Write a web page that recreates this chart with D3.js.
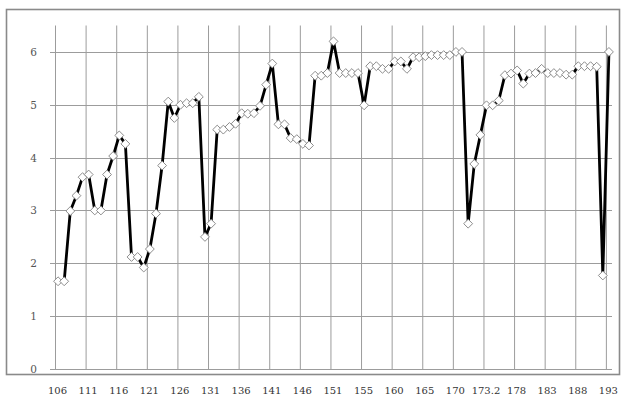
<!DOCTYPE html>
<html>
<head>
<meta charset="utf-8">
<script src="https://cdn.jsdelivr.net/npm/d3@7"></script>
<style>
  html, body { margin: 0; padding: 0; background: #fff; }
  svg { display: block; }
</style>
</head>
<body>
<svg id="chart" width="624" height="397"></svg>
<script>
// ---- data ----
const values = [
  1.66, 1.66, 2.99, 3.28, 3.63, 3.68, 3.00, 3.00, 3.68, 4.03,
  4.42, 4.26, 2.12, 2.12, 1.92, 2.27, 2.94, 3.85, 5.06, 4.75,
  5.00, 5.03, 5.03, 5.15, 2.50, 2.75, 4.53, 4.53, 4.58, 4.64,
  4.84, 4.83, 4.84, 4.98, 5.38, 5.78, 4.63, 4.63, 4.37, 4.35,
  4.26, 4.23, 5.55, 5.55, 5.60, 6.20, 5.60, 5.60, 5.60, 5.60,
  4.99, 5.73, 5.73, 5.68, 5.68, 5.82, 5.82, 5.68, 5.90, 5.90,
  5.92, 5.94, 5.94, 5.94, 5.94, 6.00, 6.00, 2.75, 3.88, 4.43,
  4.99, 4.99, 5.08, 5.56, 5.59, 5.65, 5.40, 5.59, 5.60, 5.68,
  5.60, 5.60, 5.60, 5.57, 5.57, 5.73, 5.73, 5.73, 5.72, 1.77,
  6.00
];
const categories = values.map((d, i) => i);
const tickLabels = ["106", "111", "116", "121", "126", "131", "136", "141", "146", "151",
                    "155", "160", "165", "170", "173.2", "178", "183", "188", "193"];
const tickEvery = 5;
const yTicks = [0, 1, 2, 3, 4, 5, 6];

// ---- layout ----
const svg = d3.select("#chart");
const x = d3.scaleBand().domain(categories).range([55, 612]).padding(0);
const y = d3.scaleLinear().domain([0, 6.5]).range([369, 25.5]);
const cx = i => x(i) + x.bandwidth() / 2;
const serif = "'DejaVu Serif', 'Liberation Serif', serif";

// frame
svg.append("rect")
  .attr("x", 6.5).attr("y", 9.5)
  .attr("width", 613).attr("height", 365)
  .attr("fill", "none").attr("stroke", "#8a8a8a").attr("stroke-width", 1.6);

// vertical grid lines
const tickIdx = tickLabels.map((t, k) => k * tickEvery);
svg.append("g").selectAll("line").data(tickIdx).join("line")
  .attr("x1", i => x(i) + 0.5).attr("x2", i => x(i) + 0.5)
  .attr("y1", y(6.5)).attr("y2", y(0))
  .attr("stroke", "#9c9c9c").attr("stroke-width", 1);

// horizontal grid lines
svg.append("g").selectAll("line").data(yTicks).join("line")
  .attr("x1", 50).attr("x2", 612)
  .attr("y1", d => Math.round(y(d)) + 0.5).attr("y2", d => Math.round(y(d)) + 0.5)
  .attr("stroke", "#9c9c9c").attr("stroke-width", 1);

// y labels
svg.append("g").selectAll("text").data(yTicks).join("text")
  .attr("x", 37).attr("y", d => y(d) + 4)
  .attr("text-anchor", "end")
  .attr("font-family", serif)
  .attr("font-size", 10.5).attr("fill", "#555")
  .text(d => d);

// x labels
svg.append("g").selectAll("text").data(tickLabels).join("text")
  .attr("x", (t, k) => x(k * tickEvery) + 2.5)
  .attr("y", 394)
  .attr("text-anchor", "middle")
  .attr("font-family", serif)
  .attr("font-size", 10).attr("fill", "#333")
  .text(t => t);

// line
const line = d3.line().x((d, i) => cx(i)).y(d => y(d));
svg.append("path").datum(values)
  .attr("d", line)
  .attr("fill", "none").attr("stroke", "#000").attr("stroke-width", 2.8)
  .attr("stroke-linejoin", "round");

// diamond markers
const diamond = d3.symbol().type(d3.symbolDiamond2).size(50);
svg.append("g").selectAll("path").data(values).join("path")
  .attr("transform", (d, i) => `translate(${cx(i)},${y(d)})`)
  .attr("d", diamond)
  .attr("fill", "#fff").attr("stroke", "#808080").attr("stroke-width", 0.9);
</script>
</body>
</html>
